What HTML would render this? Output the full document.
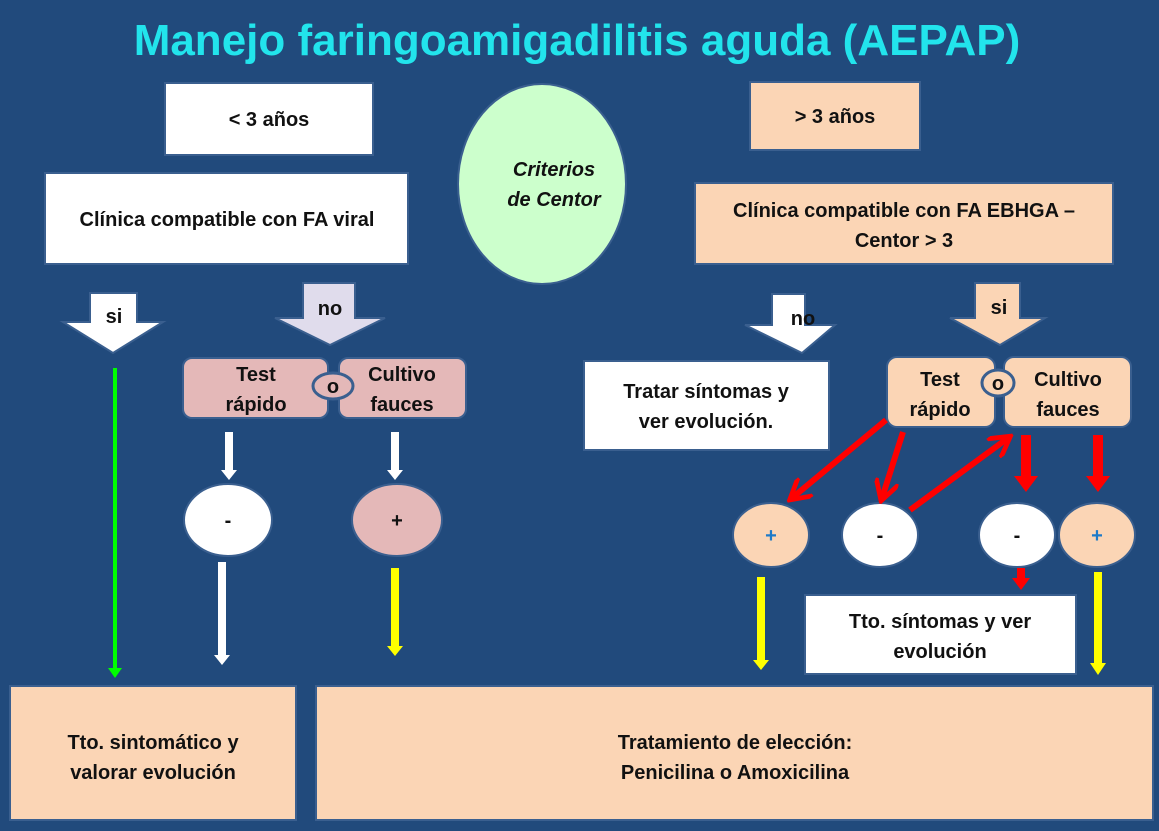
<!DOCTYPE html>
<html><head><meta charset="utf-8"><style>
html,body{margin:0;padding:0;background:#214a7c;}
svg{display:block;font-family:"Liberation Sans",sans-serif;}
.t{font-weight:bold;font-size:20px;fill:#111;text-anchor:middle;}
</style></head><body>
<svg width="1159" height="831" viewBox="0 0 1159 831" xmlns="http://www.w3.org/2000/svg">
<defs>
<marker id="rh" markerWidth="4" markerHeight="4" refX="2" refY="2" orient="auto" markerUnits="strokeWidth"><path d="M0,0 L4,2 L0,4 z" fill="#f00"/></marker>
<marker id="ro" markerWidth="4" markerHeight="4" refX="3" refY="2" orient="auto" markerUnits="strokeWidth"><path d="M0,0 L3.5,2 L0,4" fill="none" stroke="#f00" stroke-width="0.8"/></marker>
</defs>
<rect width="1159" height="831" fill="#214a7c"/>
<text x="577" y="55" text-anchor="middle" font-size="44" font-weight="bold" fill="#22e4ec">Manejo faringoamigadilitis aguda (AEPAP)</text>

<rect x="165" y="83" width="208" height="72" fill="#fff" stroke="#3a5f8f" stroke-width="2"/>
<text class="t" x="269" y="126">&lt; 3 años</text>
<rect x="45" y="173" width="363" height="91" fill="#fff" stroke="#3a5f8f" stroke-width="2"/>
<text class="t" x="227" y="226">Clínica compatible con FA viral</text>

<ellipse cx="542" cy="184" rx="84" ry="100" fill="#ccffcc" stroke="#3a5f8f" stroke-width="2"/>
<text class="t" x="554" y="176" font-style="italic">Criterios</text>
<text class="t" x="554" y="206" font-style="italic">de Centor</text>

<rect x="750" y="82" width="170" height="68" fill="#fbd5b5" stroke="#3a5f8f" stroke-width="2"/>
<text class="t" x="835" y="123">&gt; 3 años</text>
<rect x="695" y="183" width="418" height="81" fill="#fbd5b5" stroke="#3a5f8f" stroke-width="2"/>
<text class="t" x="904" y="217">Clínica compatible con FA EBHGA –</text>
<text class="t" x="904" y="247">Centor &gt; 3</text>

<!-- block arrows -->
<path d="M90,293 H137 V322 H163 L113,353 L63,322 H90 Z" fill="#fff" stroke="#3a5f8f" stroke-width="2"/>
<text class="t" x="114" y="323">si</text>
<path d="M303,283 H355 V318 H385 L330,345 L275,318 H303 Z" fill="#e0dcec" stroke="#3a5f8f" stroke-width="2"/>
<text class="t" x="330" y="315">no</text>
<path d="M772,294 H805 V325 H835 L802,353 L745,325 H772 Z" fill="#fff" stroke="#3a5f8f" stroke-width="2"/>
<text class="t" x="803" y="325">no</text>
<path d="M975,283 H1020 V318 H1045 L1000,345 L950,318 H975 Z" fill="#fbd5b5" stroke="#3a5f8f" stroke-width="2"/>
<text class="t" x="999" y="314">si</text>

<!-- left tests -->
<rect x="183" y="358" width="145" height="60" rx="9" fill="#e4b8b8" stroke="#3a5f8f" stroke-width="2"/>
<text class="t" x="256" y="381">Test</text><text class="t" x="256" y="411">rápido</text>
<rect x="339" y="358" width="127" height="60" rx="9" fill="#e4b8b8" stroke="#3a5f8f" stroke-width="2"/>
<text class="t" x="402" y="381">Cultivo</text><text class="t" x="402" y="411">fauces</text>
<ellipse cx="333" cy="386" rx="20" ry="13" fill="#e4b8b8" stroke="#3a5f8f" stroke-width="3"/>
<text class="t" x="333" y="393">o</text>

<!-- green -->
<line x1="115" y1="368" x2="115" y2="670" stroke="#00ff00" stroke-width="4"/>
<path d="M108,668 L122,668 L115,678 Z" fill="#00ff00"/>
<!-- white arrows -->
<rect x="225" y="432" width="8" height="40" fill="#fff"/><path d="M221,470 H237 L229,480 Z" fill="#fff"/>
<rect x="391" y="432" width="8" height="40" fill="#fff"/><path d="M387,470 H403 L395,480 Z" fill="#fff"/>
<ellipse cx="228" cy="520" rx="44" ry="36" fill="#fff" stroke="#3a5f8f" stroke-width="2"/>
<text class="t" x="228" y="527">-</text>
<ellipse cx="397" cy="520" rx="45" ry="36" fill="#e4b8b8" stroke="#3a5f8f" stroke-width="2"/>
<text class="t" x="397" y="527">+</text>
<rect x="218" y="562" width="8" height="95" fill="#fff"/><path d="M214,655 H230 L222,665 Z" fill="#fff"/>
<rect x="391" y="568" width="8" height="80" fill="#ffff00"/><path d="M387,646 H403 L395,656 Z" fill="#ffff00"/>

<!-- right side -->
<rect x="584" y="361" width="245" height="89" fill="#fff" stroke="#3a5f8f" stroke-width="2"/>
<text class="t" x="706" y="398">Tratar síntomas y</text>
<text class="t" x="706" y="428">ver evolución.</text>
<rect x="887" y="357" width="108" height="70" rx="10" fill="#fbd5b5" stroke="#3a5f8f" stroke-width="2"/>
<text class="t" x="940" y="386">Test</text><text class="t" x="940" y="416">rápido</text>
<rect x="1004" y="357" width="127" height="70" rx="10" fill="#fbd5b5" stroke="#3a5f8f" stroke-width="2"/>
<text class="t" x="1068" y="386">Cultivo</text><text class="t" x="1068" y="416">fauces</text>
<ellipse cx="998" cy="383" rx="16" ry="13" fill="#fbd5b5" stroke="#3a5f8f" stroke-width="3"/>
<text class="t" x="998" y="390">o</text>

<ellipse cx="771" cy="535" rx="38" ry="32" fill="#fbd5b5" stroke="#3a5f8f" stroke-width="2"/>
<text class="t" x="771" y="542" fill="#1e7ac8" style="fill:#1e7ac8">+</text>
<ellipse cx="880" cy="535" rx="38" ry="32" fill="#fff" stroke="#3a5f8f" stroke-width="2"/>
<text class="t" x="880" y="542">-</text>
<ellipse cx="1017" cy="535" rx="38" ry="32" fill="#fff" stroke="#3a5f8f" stroke-width="2"/>
<text class="t" x="1017" y="542">-</text>
<ellipse cx="1097" cy="535" rx="38" ry="32" fill="#fbd5b5" stroke="#3a5f8f" stroke-width="2"/>
<text class="t" x="1097" y="542" style="fill:#1e7ac8">+</text>

<g stroke="#f00" stroke-width="6" fill="none">
<line x1="886" y1="420" x2="792" y2="498" marker-end="url(#ro)"/>
<line x1="903" y1="432" x2="882" y2="498" marker-end="url(#ro)"/>
<line x1="910" y1="510" x2="1008" y2="438" marker-end="url(#ro)"/>
</g>
<rect x="1021" y="435" width="10" height="42" fill="#f00"/><path d="M1014,476 H1038 L1026,492 Z" fill="#f00"/>
<rect x="1093" y="435" width="10" height="42" fill="#f00"/><path d="M1086,476 H1110 L1098,492 Z" fill="#f00"/>
<rect x="1017" y="568" width="8" height="12" fill="#f00"/><path d="M1012,578 H1030 L1021,590 Z" fill="#f00"/>

<rect x="757" y="577" width="8" height="85" fill="#ffff00"/><path d="M753,660 H769 L761,670 Z" fill="#ffff00"/>
<rect x="1094" y="572" width="8" height="93" fill="#ffff00"/><path d="M1090,663 H1106 L1098,675 Z" fill="#ffff00"/>

<rect x="805" y="595" width="271" height="79" fill="#fff" stroke="#3a5f8f" stroke-width="2"/>
<text class="t" x="940" y="628">Tto. síntomas y ver</text>
<text class="t" x="940" y="658">evolución</text>

<rect x="10" y="686" width="286" height="134" fill="#fbd5b5" stroke="#3a5f8f" stroke-width="2"/>
<text class="t" x="153" y="749">Tto. sintomático  y</text>
<text class="t" x="153" y="779">valorar evolución</text>
<rect x="316" y="686" width="837" height="134" fill="#fbd5b5" stroke="#3a5f8f" stroke-width="2"/>
<text class="t" x="735" y="749">Tratamiento de  elección:</text>
<text class="t" x="735" y="779">Penicilina o Amoxicilina</text>
</svg>
</body></html>
